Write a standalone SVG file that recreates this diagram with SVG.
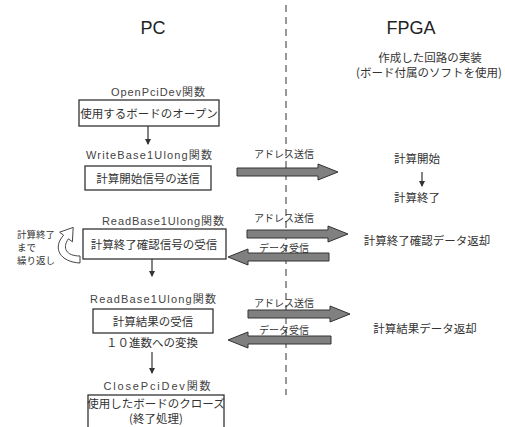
<svg xmlns="http://www.w3.org/2000/svg" width="505" height="427" viewBox="0 0 505 427">
<defs>
<style>
.t{font-family:"Liberation Sans","Noto Sans CJK JP",sans-serif;fill:#222;text-anchor:middle}
.ttl{font-size:18px}
.j{font-family:"Noto Sans CJK JP","Liberation Sans",sans-serif;font-size:11.5px;fill:#333;text-anchor:middle}
.s{font-family:"Noto Sans CJK JP",sans-serif;font-size:10px;fill:#333;text-anchor:middle}
.l{font-family:"Noto Sans CJK JP",sans-serif;font-size:9.5px;fill:#333;text-anchor:start}
.f{font-family:"Liberation Sans","Noto Sans CJK JP",sans-serif;font-size:11px;fill:#444;text-anchor:middle}
.box{fill:#fff;stroke:#333;stroke-width:1.3}
.big{fill:#808080;stroke:#333;stroke-width:1}
.ln{stroke:#333;stroke-width:1.2;fill:none}
</style>
<marker id="ah" markerWidth="6" markerHeight="6" refX="5" refY="3" orient="auto" markerUnits="userSpaceOnUse">
<path d="M0,0 L6,3 L0,6 Z" fill="#333"/>
</marker>
</defs>
<rect width="505" height="427" fill="#fff"/>
<line x1="286" y1="5" x2="286" y2="395" stroke="#777" stroke-width="1.5" stroke-dasharray="7,5"/>
<text class="t ttl" x="153" y="34">PC</text>
<text class="t ttl" x="411" y="34">FPGA</text>
<text class="j" x="430" y="62" font-size="10.5">作成した回路の実装</text>
<text class="j" x="429" y="77" font-size="10.3">(ボード付属のソフトを使用)</text>

<g id="n1">
<text class="f" x="158" y="96" textLength="94" lengthAdjust="spacing">OpenPciDev関数</text>
<rect class="box" x="79" y="100" width="140" height="26"/>
<text class="j" x="149" y="118">使用するボードのオープン</text>
</g>
<g id="n2">
<text class="f" x="149" y="159" textLength="126" lengthAdjust="spacing">WriteBase1Ulong関数</text>
<rect class="box" x="85" y="166" width="126" height="24"/>
<text class="j" x="148" y="183">計算開始信号の送信</text>
</g>
<g id="n3">
<text class="f" x="163" y="225" textLength="122" lengthAdjust="spacing">ReadBase1Ulong関数</text>
<rect class="box" x="83" y="229" width="143" height="30"/>
<text class="j" x="154" y="249">計算終了確認信号の受信</text>
<text class="l" x="17" y="238">計算終了</text>
<text class="l" x="17" y="251">まで</text>
<text class="l" x="17" y="264">繰り返し</text>
<path d="M80,263 C60,262 52,248 63.6,235.2 L59.6,232.2 L73.2,227.4 L72.4,241.8 L68.4,238.8 C62,248 66,256 80,256 Z" fill="#fff" stroke="#444" stroke-width="1"/>
</g>
<g id="n4">
<text class="f" x="153" y="303" textLength="126" lengthAdjust="spacing">ReadBase1Ulong関数</text>
<rect class="box" x="93" y="309" width="120" height="24"/>
<text class="j" x="153" y="326">計算結果の受信</text>
<text class="j" x="152" y="347">１０進数への変換</text>
</g>
<g id="n5">
<text class="f" x="157" y="390" textLength="107" lengthAdjust="spacing">ClosePciDev関数</text>
<rect class="box" x="88" y="395" width="136" height="40"/>
<text class="j" x="156" y="408" font-size="10.5">使用したボードのクローズ</text>
<text class="j" x="156" y="423" font-size="10.5">(終了処理)</text>
</g>
<g id="fpga">
<text class="j" x="417" y="163" font-size="10.5">計算開始</text>
<text class="j" x="417" y="202" font-size="10.5">計算終了</text>
<text class="j" x="427" y="245">計算終了確認データ返却</text>
<text class="j" x="425" y="333">計算結果データ返却</text>
</g>
<g id="connectors">
<line class="ln" x1="148" y1="126" x2="148" y2="144" marker-end="url(#ah)"/>
<line class="ln" x1="152" y1="259" x2="152" y2="276" marker-end="url(#ah)"/>
<line class="ln" x1="152" y1="352" x2="152" y2="373" marker-end="url(#ah)"/>
<line class="ln" x1="422" y1="172" x2="422" y2="186" marker-end="url(#ah)"/>
<text class="s" x="284" y="158">アドレス送信</text>
<polygon class="big" points="237,168 318,168 318,164 338,172 318,180 318,176 237,176"/>
<text class="s" x="284" y="222">アドレス送信</text>
<polygon class="big" points="247,230 328,230 328,226 348,234 328,242 328,238 247,238"/>
<text class="s" x="284" y="252">データ受信</text>
<polygon class="big" points="329,253 248,253 248,249 228,257 248,265 248,261 329,261"/>
<text class="s" x="284" y="307">アドレス送信</text>
<polygon class="big" points="248,310 330,310 330,306 350,314 330,322 330,318 248,318"/>
<text class="s" x="284" y="334">データ受信</text>
<polygon class="big" points="331,336 248,336 248,332 228,340 248,348 248,344 331,344"/>
</g>
</svg>
